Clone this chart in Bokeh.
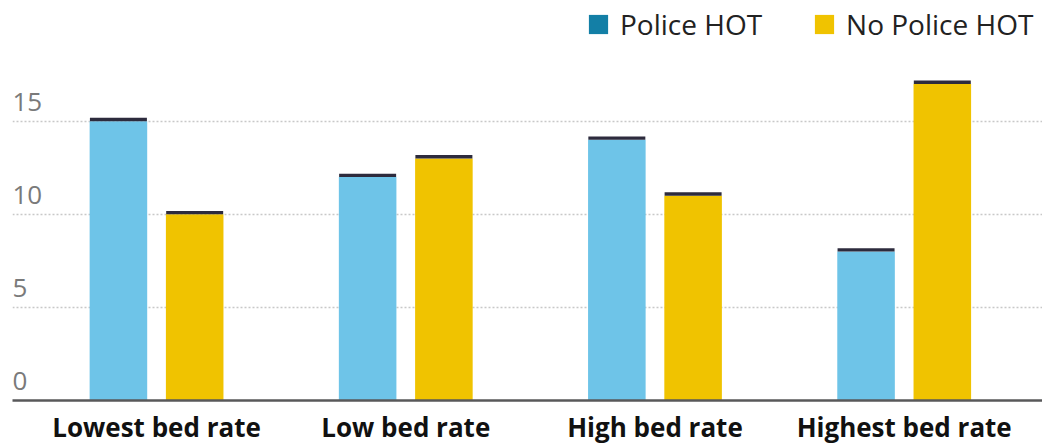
from bokeh.plotting import figure
from bokeh.models import (ColumnDataSource, FixedTicker, Legend, LegendItem, Range1d)
from bokeh.core.properties import value
from bokeh.embed import file_html
from bokeh.resources import INLINE

# ---- data ----
categories = ["Lowest bed rate", "Low bed rate", "High bed rate", "Highest bed rate"]
police_hot = [15, 12, 14, 8]
no_police_hot = [10, 13, 11, 17]
y_ticks = [0, 5, 10, 15]
series_names = ["Police HOT", "No Police HOT"]

# ---- style ----
BLUE = "#6ec4e8"
YELLOW = "#f0c300"
LEG_BLUE = "#137fa6"
LEG_YELLOW = "#f0c300"
CAP = "#2d2b3d"
OFF = 0.153
BW = 0.231
CAP_H = 0.18
FONT = "Open Sans"

xs = list(range(len(categories)))
x_start, x_end = -0.578, 3.555

p = figure(width=1042, height=447, output_backend="svg", toolbar_location=None,
           x_range=Range1d(x_start, x_end), y_range=Range1d(0, 21.48),
           y_axis_location=None, min_border_left=12, min_border_right=0,
           min_border_top=0, min_border_bottom=45)
p.outline_line_color = None
p.background_fill_color = "white"
p.xgrid.visible = False

p.ygrid.ticker = FixedTicker(ticks=[t for t in y_ticks if t > 0])
p.ygrid.grid_line_color = "#c8c8c8"
p.ygrid.grid_line_dash = "2 2"
p.ygrid.grid_line_width = 1.5

src = ColumnDataSource(dict(
    xp=[x - OFF for x in xs], xn=[x + OFF for x in xs],
    police=police_hot, nopolice=no_police_hot,
    police_cap=[v + CAP_H for v in police_hot],
    nopolice_cap=[v + CAP_H for v in no_police_hot],
))

p.vbar(x="xp", top="police", bottom=0, width=BW, source=src, fill_color=BLUE, line_color=None)
p.vbar(x="xn", top="nopolice", bottom=0, width=BW, source=src, fill_color=YELLOW, line_color=None)
p.vbar(x="xp", top="police_cap", bottom="police", width=BW * 0.99, source=src, fill_color=CAP, line_color=None)
p.vbar(x="xn", top="nopolice_cap", bottom="nopolice", width=BW * 0.99, source=src, fill_color=CAP, line_color=None)

# y tick labels inside the frame
tsrc = ColumnDataSource(dict(x=[x_start] * len(y_ticks), y=y_ticks, t=[str(v) for v in y_ticks]))
p.text(x="x", y="y", text="t", source=tsrc, text_font=value(FONT), text_font_size="26px",
       text_color="#7a7a7a", text_align="left", text_baseline="alphabetic",
       x_offset=0, y_offset=-19.5)

# x axis
ax = p.xaxis[0]
ax.ticker = FixedTicker(ticks=xs)
ax.major_label_overrides = {i: c for i, c in enumerate(categories)}
ax.major_label_text_font = FONT
ax.major_label_text_font_size = "26px"
ax.major_label_text_font_style = "bold"
ax.major_label_text_color = "#111111"
ax.major_label_standoff = 8
ax.major_tick_out = 0
ax.major_tick_in = 0
ax.axis_label_standoff = 0
ax.axis_line_color = "#58585a"
ax.axis_line_width = 2.5
ax.major_tick_line_color = None
ax.minor_tick_line_color = None

# legend swatches: zero-height bars carrying the legend colours
r1 = p.vbar(x="xp", top="police", bottom="police", width=BW, source=src,
            fill_color=LEG_BLUE, line_color=None)
r2 = p.vbar(x="xn", top="nopolice", bottom="nopolice", width=BW, source=src,
            fill_color=LEG_YELLOW, line_color=None)
legend = Legend(items=[LegendItem(label=series_names[0], renderers=[r1], index=0),
                       LegendItem(label=series_names[1], renderers=[r2], index=0)],
                orientation="horizontal", location=(574, 357),
                glyph_width=24, glyph_height=24, label_standoff=10, spacing=50,
                label_text_font=FONT, label_text_font_size="28px", label_text_color="#222222",
                label_height=24, padding=0, margin=0,
                border_line_color=None, background_fill_alpha=0)
p.add_layout(legend, "center")

open("out.html", "w").write(file_html(p, INLINE))
